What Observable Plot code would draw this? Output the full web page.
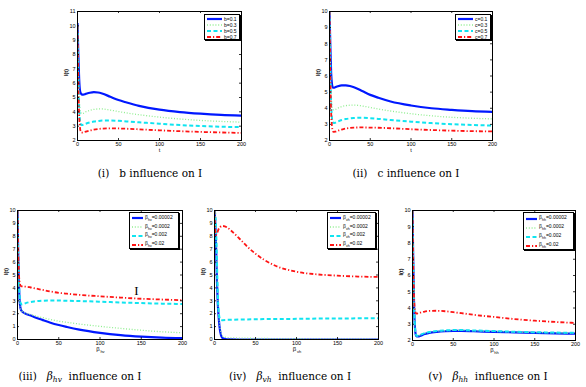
<!DOCTYPE html>
<html><head><meta charset="utf-8">
<script src="https://cdn.jsdelivr.net/npm/d3@7"></script>
<script src="https://cdn.jsdelivr.net/npm/@observablehq/plot@0.6"></script>
<style>
body{margin:0;background:#fff;}
#wrap{position:relative;width:586px;height:387px;overflow:hidden;background:#fff;font-family:Arial,"Liberation Sans",sans-serif;}
.panel{position:absolute;overflow:visible;}
.cap{position:absolute;font-family:"DejaVu Serif","Liberation Serif",serif;font-size:10.5px;white-space:pre;color:#000;transform:translateX(-50%);line-height:1;}
.cap sub{font-size:7.5px;vertical-align:-2px;}
.leg{position:absolute;border:1px solid #000;background:#fff;box-shadow:1px 1px 0 #000;box-sizing:border-box;}
.row{position:absolute;left:0;display:flex;align-items:center;font-size:5px;color:#000;white-space:nowrap;line-height:1;}
.row sub{font-size:3.6px;vertical-align:-1.5px;}
.row svg{display:block;margin-right:1px;}
</style>
</head><body>
<div id="wrap"></div>
<script>
// ---------- data ----------
const xTicks = [0, 50, 100, 150, 200];

// (i) b influence on I
const tI = [0,1,2,3,4,5,7,10,15,20,25,30,40,50,60,75,100,125,150,175,200];
const b01 = [10.2,8.0,6.3,5.5,5.3,5.22,5.2,5.25,5.33,5.37,5.35,5.28,5.05,4.82,4.65,4.42,4.15,3.98,3.87,3.79,3.74];
const b03 = [10,7.0,5.0,4.2,3.95,3.88,3.9,4.0,4.1,4.17,4.2,4.2,4.12,4.02,3.92,3.8,3.63,3.5,3.4,3.33,3.28];
const b05 = [10,6.5,4.3,3.4,3.15,3.08,3.1,3.17,3.26,3.32,3.36,3.39,3.4,3.37,3.33,3.27,3.17,3.08,3.01,2.96,2.93];
const b07 = [10,6.0,3.8,2.9,2.62,2.55,2.57,2.62,2.7,2.76,2.8,2.83,2.85,2.84,2.82,2.78,2.71,2.65,2.6,2.56,2.53];
const bLabels = ["b=0.1","b=0.3","b=0.5","b=0.7"];

// (ii) c influence on I
const c01 = [10,7.9,6.2,5.5,5.3,5.27,5.3,5.36,5.42,5.42,5.38,5.3,5.07,4.83,4.65,4.42,4.17,4.0,3.9,3.82,3.77];
const c03 = [10,7.0,5.0,4.2,3.95,3.9,3.92,4.0,4.1,4.16,4.19,4.2,4.14,4.05,3.95,3.83,3.66,3.53,3.44,3.38,3.34];
const c05 = [10,6.5,4.3,3.4,3.15,3.08,3.1,3.17,3.27,3.33,3.37,3.4,3.41,3.38,3.34,3.27,3.17,3.08,3.01,2.96,2.93];
const c07 = [10,6.0,3.8,2.9,2.6,2.53,2.55,2.6,2.68,2.74,2.78,2.8,2.81,2.8,2.79,2.76,2.7,2.65,2.61,2.58,2.56];
const cLabels = ["c=0.1","c=0.3","c=0.5","c=0.7"];

// (iii)-(v) beta influence on I
const tB = [0,1,2,3,4,5,7,10,15,20,30,40,50,60,75,100,125,150,175,200];
const hv1 = [10,6,3.8,2.7,2.35,2.22,2.1,2.0,1.88,1.75,1.52,1.3,1.12,0.97,0.77,0.52,0.34,0.22,0.14,0.1];
const hv2 = [10,6,3.8,2.7,2.35,2.22,2.12,2.03,1.95,1.86,1.7,1.55,1.42,1.33,1.2,1.02,0.86,0.72,0.6,0.52];
const hv3 = [10,6.2,4.0,3.1,2.8,2.72,2.75,2.82,2.9,2.95,3.0,3.02,3.02,3.0,2.98,2.93,2.87,2.82,2.78,2.75];
const hv4 = [10,6.5,4.8,4.3,4.15,4.12,4.11,4.1,4.05,3.98,3.85,3.72,3.62,3.55,3.46,3.35,3.25,3.16,3.1,3.05];

const vh1 = [10,9,7,4.5,2.8,1.8,0.6,0.1,0.02,0.01,0,0,0,0,0,0,0,0,0,0];
const vh2 = [10,9.2,7.3,4.8,3.0,2.0,0.8,0.25,0.15,0.13,0.11,0.1,0.09,0.08,0.07,0.06,0.05,0.04,0.04,0.03];
const vh3 = [10,9.7,8.5,6.0,3.5,2.2,1.55,1.5,1.52,1.53,1.55,1.56,1.57,1.58,1.59,1.6,1.62,1.63,1.64,1.65];
const vh4 = [10,8.3,8.1,8.2,8.4,8.55,8.72,8.8,8.7,8.45,7.85,7.2,6.65,6.2,5.7,5.25,5.05,4.95,4.88,4.85];

const hh1 = [10,6.5,4.0,2.8,2.35,2.25,2.25,2.3,2.4,2.46,2.53,2.57,2.59,2.59,2.57,2.53,2.5,2.47,2.44,2.42];
const hh2 = [10,6.5,4.0,2.82,2.37,2.27,2.28,2.34,2.44,2.5,2.57,2.6,2.62,2.62,2.6,2.56,2.52,2.49,2.47,2.45];
const hh3 = [10,6.6,4.1,2.85,2.4,2.29,2.3,2.36,2.46,2.52,2.59,2.62,2.64,2.64,2.62,2.58,2.54,2.51,2.49,2.47];
const hh4 = [10,6.5,4.5,3.9,3.7,3.65,3.68,3.72,3.78,3.82,3.83,3.8,3.74,3.68,3.58,3.45,3.32,3.22,3.14,3.08];

const betaValues = ["0.00002","0.0002","0.002","0.02"];
const annot = [{x: 144, y: 3.8, text: "I"}];

// ---------- styles ----------
const styles = [
  {stroke:"#0018ff", strokeWidth:2.2, dash:null},
  {stroke:"#90ee90", strokeWidth:1.3, dash:"1,1.8"},
  {stroke:"#10e4f0", strokeWidth:2.0, dash:"4,2.5"},
  {stroke:"#ff1414", strokeWidth:1.8, dash:"4,2,1.2,2"}
];

const panels = [
  {L:77,R:241,T:11,B:140, y:[2,11], yTicks:d3.range(2,12), x:tI, series:[b01,b03,b05,b07],
   xlab:"t", legend:{x:204,y:14,w:36,h:26,kind:"plain",labels:bLabels},
   cap:{cx:150,y:168,html:"(i)   b influence on I"}},
  {L:329,R:492,T:11,B:140, y:[2,10], yTicks:d3.range(2,11), x:tI, series:[c01,c03,c05,c07],
   xlab:"t", legend:{x:455,y:14,w:36,h:26,kind:"plain",labels:cLabels},
   cap:{cx:406,y:168,html:"(ii)   c influence on I"}},
  {L:17,R:182,T:210,B:339, y:[0,10], yTicks:d3.range(0,11), x:tB, series:[hv1,hv2,hv3,hv4],
   xlab:"β", xsub:"hv", legend:{x:129,y:212,w:50,h:37,kind:"beta",sub:"hv"}, annot:annot,
   cap:{cx:80,y:371,html:"(iii)   <i>β<sub>hv</sub></i>  influence on I"}},
  {L:214,R:378,T:210,B:339, y:[0,10], yTicks:d3.range(0,11), x:tB, series:[vh1,vh2,vh3,vh4],
   xlab:"β", xsub:"vh", legend:{x:327,y:212,w:49,h:37,kind:"beta",sub:"vh"},
   cap:{cx:290,y:371,html:"(iv)   <i>β<sub>vh</sub></i>  influence on I"}},
  {L:412,R:575,T:210,B:340, y:[2,10], yTicks:d3.range(2,11), x:tB, series:[hh1,hh2,hh3,hh4],
   xlab:"β", xsub:"hh", legend:{x:523,y:212,w:51,h:38,kind:"beta",sub:"hh"},
   cap:{cx:488,y:371,html:"(v)   <i>β<sub>hh</sub></i>  influence on I"}}
];

const wrap = document.getElementById("wrap");

for (const p of panels) {
  const ml = Math.min(p.L, 20), mt = 5, mr = 8, mb = 22;
  const W = p.R - p.L, H = p.B - p.T;
  const marks = [];
  p.series.forEach((vals, i) => {
    const st = styles[i];
    const data = p.x.map((x, j) => ({x, y: vals[j]}));
    marks.push(Plot.line(data, {x:"x", y:"y", stroke: st.stroke, strokeWidth: st.strokeWidth,
      strokeDasharray: st.dash || undefined, strokeLinecap: "butt", strokeLinejoin:"round",
      curve:"monotone-x", clip:true}));
  });
  // inward ticks on all four sides
  marks.push(Plot.tickX(xTicks, {x: d => d, insetTop: H - 2, stroke:"#000", strokeWidth:0.8}));
  marks.push(Plot.tickX(xTicks, {x: d => d, insetBottom: H - 2, stroke:"#000", strokeWidth:0.8}));
  marks.push(Plot.tickY(p.yTicks, {y: d => d, insetRight: W - 2, stroke:"#000", strokeWidth:0.8}));
  marks.push(Plot.tickY(p.yTicks, {y: d => d, insetLeft: W - 2, stroke:"#000", strokeWidth:0.8}));
  marks.push(Plot.axisX(xTicks, {tickSize:0, tickPadding:2, fontSize:5.5, label:null}));
  marks.push(Plot.axisY(p.yTicks, {tickSize:0, tickPadding:2, fontSize:5.5, label:null}));
  marks.push(Plot.frame({stroke:"#000", strokeWidth:1}));
  // axis labels
  marks.push(Plot.text(["I(t)"], {frameAnchor:"left", dx: -11, rotate:-90, fontSize:5.5, fontWeight:"bold"}));
  if (p.xsub) {
    marks.push(Plot.text([p.xlab], {frameAnchor:"bottom", dy: 11, dx:-2, fontSize:6}));
    marks.push(Plot.text([p.xsub], {frameAnchor:"bottom", dy: 13, dx:2.5, fontSize:4}));
  } else {
    marks.push(Plot.text([p.xlab], {frameAnchor:"bottom", dy: 11, fontSize:5.5}));
  }
  if (p.annot) {
    marks.push(Plot.text(p.annot, {x:"x", y:"y", text:"text", fontSize:13, fontFamily:"Liberation Serif, serif"}));
  }
  const svg = Plot.plot({
    width: W + ml + mr, height: H + mt + mb,
    marginLeft: ml, marginRight: mr, marginTop: mt, marginBottom: mb,
    x: {domain:[0,200], label:null}, y: {domain: p.y, label:null},
    style: {fontSize:"5.5px", fontFamily:"Arial, 'Liberation Sans', sans-serif", background:"transparent", color:"#000", overflow:"visible"},
    marks
  });
  svg.classList.add("panel");
  svg.style.left = (p.L - ml) + "px";
  svg.style.top = (p.T - mt) + "px";
  wrap.appendChild(svg);

  // legend
  const lg = document.createElement("div");
  lg.className = "leg";
  Object.assign(lg.style, {left:p.legend.x+"px", top:p.legend.y+"px", width:p.legend.w+"px", height:p.legend.h+"px"});
  const rowH = (p.legend.h - 2) / 4;
  styles.forEach((st, i) => {
    const row = document.createElement("div");
    row.className = "row";
    row.style.top = (1 + i * rowH) + "px";
    row.style.height = rowH + "px";
    row.style.left = "1px";
    const sw = p.legend.kind === "plain" ? 17 : 13;
    const ns = "http://www.w3.org/2000/svg";
    const s = document.createElementNS(ns, "svg");
    s.setAttribute("width", sw); s.setAttribute("height", 4);
    const ln = document.createElementNS(ns, "line");
    ln.setAttribute("x1", 1); ln.setAttribute("x2", sw - 1);
    ln.setAttribute("y1", 2); ln.setAttribute("y2", 2);
    ln.setAttribute("stroke", st.stroke); ln.setAttribute("stroke-width", st.strokeWidth);
    if (st.dash) ln.setAttribute("stroke-dasharray", st.dash);
    s.appendChild(ln);
    row.appendChild(s);
    const tx = document.createElement("span");
    if (p.legend.kind === "plain") tx.textContent = p.legend.labels[i];
    else tx.innerHTML = "β<sub>" + p.legend.sub + "</sub>=" + betaValues[i];
    row.appendChild(tx);
    lg.appendChild(row);
  });
  wrap.appendChild(lg);

  // caption
  const cap = document.createElement("div");
  cap.className = "cap";
  cap.style.left = p.cap.cx + "px";
  cap.style.top = p.cap.y + "px";
  cap.innerHTML = p.cap.html;
  wrap.appendChild(cap);
}
</script>
</body></html>
